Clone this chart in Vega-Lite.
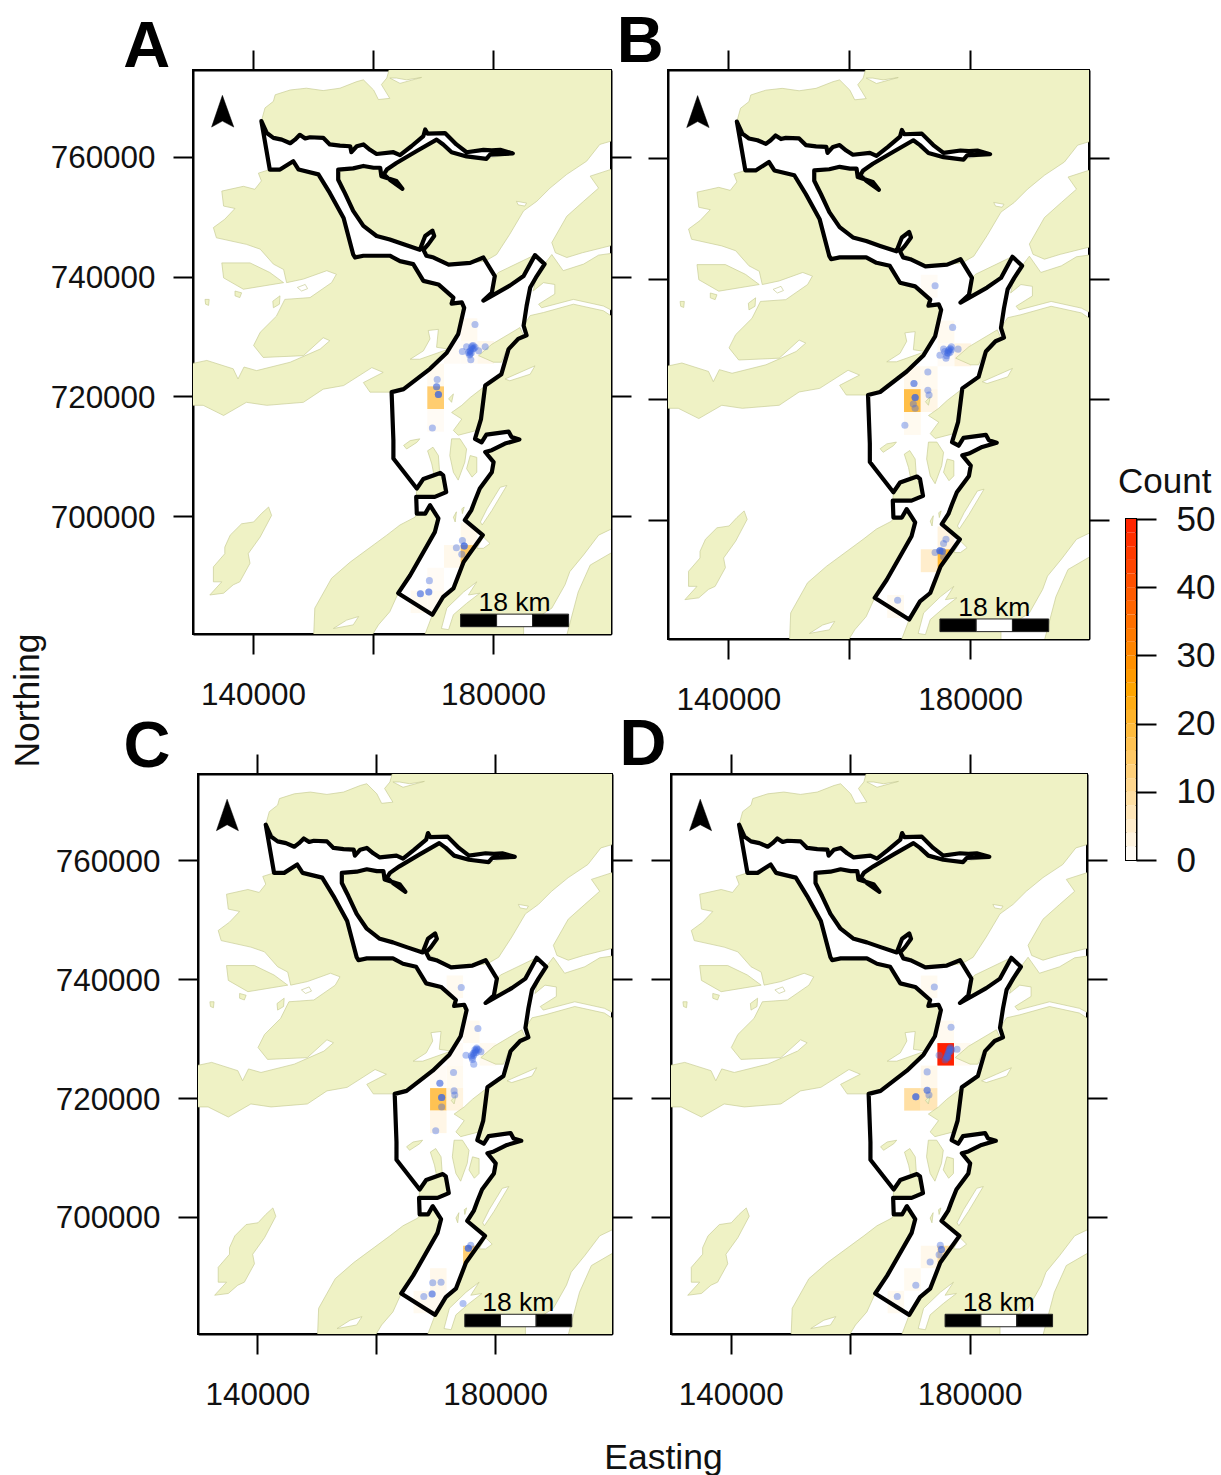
{"$schema":"https://vega.github.io/schema/vega-lite/v6.json",
"padding":{"left":9,"top":8,"right":0,"bottom":0},
"background":"white",
"config":{"font":"Liberation Sans","view":{"stroke":"black","strokeWidth":2},"axis":{"grid":false,"tickSize":20,"tickWidth":2,"tickColor":"black","domainColor":"black","domainWidth":2,"labelFont":"Liberation Sans","labelFontSize":31.4,"labelColor":"#111111","labelOverlap":false,"labelFlush":false,"labelBound":false,"zindex":1,"titleFont":"Liberation Sans","titleFontSize":35.5,"titleFontWeight":"normal","titleColor":"#111111"}},
"datasets":{
"land":[
{"p":"a","i":1,"x":141400,"y":766000},{"p":"a","i":2,"x":142000,"y":768200},{"p":"a","i":3,"x":143400,"y":769300},{"p":"a","i":4,"x":143700,"y":770400},{"p":"a","i":5,"x":146200,"y":771200},{"p":"a","i":6,"x":148900,"y":771500},{"p":"a","i":7,"x":151700,"y":771100},{"p":"a","i":8,"x":154500,"y":771500},{"p":"a","i":9,"x":157300,"y":772600},{"p":"a","i":10,"x":158400,"y":772900},{"p":"a","i":11,"x":160100,"y":771200},{"p":"a","i":12,"x":160900,"y":769600},{"p":"a","i":13,"x":162800,"y":769800},{"p":"a","i":14,"x":161400,"y":772100},{"p":"a","i":15,"x":162300,"y":773200},{"p":"a","i":16,"x":162800,"y":775000},{"p":"a","i":17,"x":200500,"y":775000},{"p":"a","i":18,"x":200500,"y":762900},{"p":"a","i":19,"x":197800,"y":762100},{"p":"a","i":20,"x":195600,"y":759300},{"p":"a","i":21,"x":192300,"y":757100},{"p":"a","i":22,"x":189500,"y":754800},{"p":"a","i":23,"x":187300,"y":752600},{"p":"a","i":24,"x":185100,"y":751000},{"p":"a","i":25,"x":182800,"y":747100},{"p":"a","i":26,"x":180600,"y":743700},{"p":"a","i":27,"x":178700,"y":742600},{"p":"a","i":28,"x":176200,"y":742300},{"p":"a","i":29,"x":172800,"y":741900},{"p":"a","i":30,"x":170100,"y":743500},{"p":"a","i":31,"x":168400,"y":744300},{"p":"a","i":32,"x":165100,"y":745400},{"p":"a","i":33,"x":160600,"y":746800},{"p":"a","i":34,"x":158400,"y":748200},{"p":"a","i":35,"x":156700,"y":751000},{"p":"a","i":36,"x":155600,"y":753200},{"p":"a","i":37,"x":154500,"y":754800},{"p":"a","i":38,"x":154200,"y":756500},{"p":"a","i":39,"x":154200,"y":757900},{"p":"a","i":40,"x":157800,"y":758500},{"p":"a","i":41,"x":160100,"y":758200},{"p":"a","i":42,"x":161200,"y":758200},{"p":"a","i":43,"x":161700,"y":756800},{"p":"a","i":44,"x":162800,"y":756200},{"p":"a","i":45,"x":164900,"y":754700},{"p":"a","i":46,"x":162300,"y":757300},{"p":"a","i":47,"x":163900,"y":759000},{"p":"a","i":48,"x":167300,"y":761000},{"p":"a","i":49,"x":170600,"y":762900},{"p":"a","i":50,"x":172800,"y":761000},{"p":"a","i":51,"x":175600,"y":760100},{"p":"a","i":52,"x":178900,"y":759700},{"p":"a","i":53,"x":183400,"y":760600},{"p":"a","i":54,"x":179500,"y":761100},{"p":"a","i":55,"x":175600,"y":760800},{"p":"a","i":56,"x":172300,"y":764000},{"p":"a","i":57,"x":168700,"y":764000},{"p":"a","i":58,"x":164500,"y":760400},{"p":"a","i":59,"x":160600,"y":760700},{"p":"a","i":60,"x":158400,"y":762100},{"p":"a","i":61,"x":156200,"y":761500},{"p":"a","i":62,"x":152800,"y":762100},{"p":"a","i":63,"x":151700,"y":763200},{"p":"a","i":64,"x":147800,"y":763700},{"p":"a","i":65,"x":146200,"y":762300},{"p":"a","i":66,"x":143400,"y":763200},
{"p":"b","i":1,"x":142800,"y":757900},{"p":"b","i":2,"x":144500,"y":757900},{"p":"b","i":3,"x":146700,"y":759300},{"p":"b","i":4,"x":147600,"y":757900},{"p":"b","i":5,"x":150900,"y":757100},{"p":"b","i":6,"x":152800,"y":754000},{"p":"b","i":7,"x":155100,"y":749800},{"p":"b","i":8,"x":156700,"y":743700},{"p":"b","i":9,"x":158400,"y":743500},{"p":"b","i":10,"x":162800,"y":743500},{"p":"b","i":11,"x":164500,"y":742600},{"p":"b","i":12,"x":166700,"y":742100},{"p":"b","i":13,"x":168400,"y":739300},{"p":"b","i":14,"x":170900,"y":738700},{"p":"b","i":15,"x":173400,"y":736500},{"p":"b","i":16,"x":173100,"y":735500},{"p":"b","i":17,"x":174800,"y":735700},{"p":"b","i":18,"x":175200,"y":734800},{"p":"b","i":19,"x":174200,"y":730400},{"p":"b","i":20,"x":172300,"y":727300},{"p":"b","i":21,"x":169500,"y":724600},{"p":"b","i":22,"x":165100,"y":721200},{"p":"b","i":23,"x":163100,"y":720700},{"p":"b","i":24,"x":159500,"y":720700},{"p":"b","i":25,"x":158400,"y":722300},{"p":"b","i":26,"x":161700,"y":724000},{"p":"b","i":27,"x":159800,"y":724800},{"p":"b","i":28,"x":155100,"y":721800},{"p":"b","i":29,"x":151700,"y":721200},{"p":"b","i":30,"x":148400,"y":719000},{"p":"b","i":31,"x":142300,"y":718500},{"p":"b","i":32,"x":138900,"y":719000},{"p":"b","i":33,"x":135100,"y":716800},{"p":"b","i":34,"x":131700,"y":718500},{"p":"b","i":35,"x":129500,"y":718500},{"p":"b","i":36,"x":129500,"y":725400},{"p":"b","i":37,"x":132300,"y":726000},{"p":"b","i":38,"x":136700,"y":724600},{"p":"b","i":39,"x":137500,"y":722900},{"p":"b","i":40,"x":138500,"y":724900},{"p":"b","i":41,"x":140600,"y":724300},{"p":"b","i":42,"x":146200,"y":725700},{"p":"b","i":43,"x":151200,"y":727900},{"p":"b","i":44,"x":152800,"y":729300},{"p":"b","i":45,"x":151700,"y":729800},{"p":"b","i":46,"x":148400,"y":726800},{"p":"b","i":47,"x":141700,"y":726500},{"p":"b","i":48,"x":140100,"y":728500},{"p":"b","i":49,"x":141200,"y":730700},{"p":"b","i":50,"x":143900,"y":733400},{"p":"b","i":51,"x":145300,"y":736200},{"p":"b","i":52,"x":149500,"y":736500},{"p":"b","i":53,"x":153100,"y":739000},{"p":"b","i":54,"x":153900,"y":740400},{"p":"b","i":55,"x":152300,"y":741000},{"p":"b","i":56,"x":148400,"y":739600},{"p":"b","i":57,"x":145600,"y":739000},{"p":"b","i":58,"x":145100,"y":741200},{"p":"b","i":59,"x":143400,"y":742100},{"p":"b","i":60,"x":141200,"y":744600},{"p":"b","i":61,"x":138900,"y":745400},{"p":"b","i":62,"x":133900,"y":746500},{"p":"b","i":63,"x":133400,"y":748200},{"p":"b","i":64,"x":135300,"y":749600},{"p":"b","i":65,"x":137000,"y":751400},{"p":"b","i":66,"x":135100,"y":751800},{"p":"b","i":67,"x":134800,"y":754300},{"p":"b","i":68,"x":138400,"y":755100},{"p":"b","i":69,"x":140300,"y":754600},{"p":"b","i":70,"x":141400,"y":756000},{"p":"b","i":71,"x":140900,"y":757300},
{"p":"c","i":1,"x":134800,"y":742300},{"p":"c","i":2,"x":139500,"y":742300},{"p":"c","i":3,"x":142800,"y":740700},{"p":"c","i":4,"x":145100,"y":739000},{"p":"c","i":5,"x":138400,"y":737900},{"p":"c","i":6,"x":135100,"y":739800},
{"p":"d","i":1,"x":137000,"y":737600},{"p":"d","i":2,"x":138100,"y":737300},{"p":"d","i":3,"x":137800,"y":736500},{"p":"d","i":4,"x":137000,"y":736800},
{"p":"e","i":1,"x":132000,"y":736200},{"p":"e","i":2,"x":132700,"y":736200},{"p":"e","i":3,"x":132600,"y":735200},{"p":"e","i":4,"x":132100,"y":735400},
{"p":"f","i":1,"x":143300,"y":735900},{"p":"f","i":2,"x":144500,"y":736800},{"p":"f","i":3,"x":144400,"y":735400},{"p":"f","i":4,"x":143400,"y":734800},
{"p":"g","i":1,"x":200500,"y":732900},{"p":"g","i":2,"x":198400,"y":734300},{"p":"g","i":3,"x":193400,"y":735400},{"p":"g","i":4,"x":188400,"y":734000},{"p":"g","i":5,"x":186200,"y":733500},{"p":"g","i":6,"x":185100,"y":731800},{"p":"g","i":7,"x":185600,"y":730200},{"p":"g","i":8,"x":184200,"y":729600},{"p":"g","i":9,"x":182600,"y":727900},{"p":"g","i":10,"x":181400,"y":723700},{"p":"g","i":11,"x":178700,"y":721800},{"p":"g","i":12,"x":178000,"y":716200},{"p":"g","i":13,"x":177000,"y":712900},{"p":"g","i":14,"x":178100,"y":712300},{"p":"g","i":15,"x":178900,"y":713600},{"p":"g","i":16,"x":182600,"y":714100},{"p":"g","i":17,"x":183100,"y":713200},{"p":"g","i":18,"x":184400,"y":712800},{"p":"g","i":19,"x":182000,"y":712100},{"p":"g","i":20,"x":179800,"y":711000},{"p":"g","i":21,"x":178700,"y":710700},{"p":"g","i":22,"x":180100,"y":709000},{"p":"g","i":23,"x":179800,"y":707300},{"p":"g","i":24,"x":177800,"y":704600},{"p":"g","i":25,"x":177000,"y":702600},{"p":"g","i":26,"x":176400,"y":701000},{"p":"g","i":27,"x":175300,"y":699300},{"p":"g","i":28,"x":178300,"y":696800},{"p":"g","i":29,"x":175100,"y":692300},{"p":"g","i":30,"x":173400,"y":687900},{"p":"g","i":31,"x":171700,"y":686500},{"p":"g","i":32,"x":169900,"y":683500},{"p":"g","i":33,"x":168400,"y":679500},{"p":"g","i":34,"x":200500,"y":679500},
{"p":"h","i":1,"x":200500,"y":758200},{"p":"h","i":2,"x":196200,"y":756800},{"p":"h","i":3,"x":197600,"y":754800},{"p":"h","i":4,"x":195100,"y":752600},{"p":"h","i":5,"x":192300,"y":750100},{"p":"h","i":6,"x":189800,"y":745700},{"p":"h","i":7,"x":190400,"y":744000},{"p":"h","i":8,"x":192300,"y":743200},{"p":"h","i":9,"x":194900,"y":744000},{"p":"h","i":10,"x":200500,"y":745400},
{"p":"j","i":1,"x":188600,"y":742100},{"p":"j","i":2,"x":189800,"y":743700},{"p":"j","i":3,"x":191700,"y":741000},{"p":"j","i":4,"x":195100,"y":742100},{"p":"j","i":5,"x":197600,"y":743600},{"p":"j","i":6,"x":200500,"y":744000},{"p":"j","i":7,"x":200500,"y":734000},{"p":"j","i":8,"x":198400,"y":735100},{"p":"j","i":9,"x":193400,"y":736200},{"p":"j","i":10,"x":188100,"y":734800},{"p":"j","i":11,"x":187600,"y":735400},{"p":"j","i":12,"x":190300,"y":737100},{"p":"j","i":13,"x":190300,"y":738700},{"p":"j","i":14,"x":188400,"y":739000},{"p":"j","i":15,"x":186700,"y":737600},{"p":"j","i":16,"x":187300,"y":740100},
{"p":"k","i":1,"x":180300,"y":740100},{"p":"k","i":2,"x":180900,"y":740700},{"p":"k","i":3,"x":186700,"y":743500},{"p":"k","i":4,"x":187000,"y":743600},{"p":"k","i":5,"x":185100,"y":740100},{"p":"k","i":6,"x":182800,"y":738500},{"p":"k","i":7,"x":178400,"y":736000},{"p":"k","i":8,"x":179800,"y":737300},
{"p":"l","i":1,"x":177600,"y":726800},{"p":"l","i":2,"x":179800,"y":728700},{"p":"l","i":3,"x":184500,"y":731500},{"p":"l","i":4,"x":185100,"y":730100},{"p":"l","i":5,"x":182300,"y":727900},{"p":"l","i":6,"x":181400,"y":725700},{"p":"l","i":7,"x":180100,"y":725700},
{"p":"m","i":1,"x":173100,"y":717300},{"p":"m","i":2,"x":174800,"y":718500},{"p":"m","i":3,"x":176200,"y":719800},{"p":"m","i":4,"x":178400,"y":721500},{"p":"m","i":5,"x":178700,"y":721800},{"p":"m","i":6,"x":178000,"y":716200},{"p":"m","i":7,"x":177300,"y":714300},{"p":"m","i":8,"x":174200,"y":713500},{"p":"m","i":9,"x":173400,"y":714300},{"p":"m","i":10,"x":174800,"y":716200},
{"p":"n","i":1,"x":173100,"y":712900},{"p":"n","i":2,"x":174500,"y":712900},{"p":"n","i":3,"x":175600,"y":711200},{"p":"n","i":4,"x":175300,"y":709000},{"p":"n","i":5,"x":174200,"y":706000},{"p":"n","i":6,"x":173400,"y":707300},{"p":"n","i":7,"x":172800,"y":710100},
{"p":"o","i":1,"x":176200,"y":710100},{"p":"o","i":2,"x":177300,"y":709800},{"p":"o","i":3,"x":177300,"y":707300},{"p":"o","i":4,"x":176500,"y":706500},{"p":"o","i":5,"x":175600,"y":707900},
{"p":"q","i":1,"x":165100,"y":711800},{"p":"q","i":2,"x":166200,"y":712600},{"p":"q","i":3,"x":167800,"y":712900},{"p":"q","i":4,"x":167300,"y":712300},{"p":"q","i":5,"x":165600,"y":711200},
{"p":"r","i":1,"x":169100,"y":710900},{"p":"r","i":2,"x":170000,"y":711500},{"p":"r","i":3,"x":170900,"y":710100},{"p":"r","i":4,"x":171100,"y":707300},{"p":"r","i":5,"x":170300,"y":706200},{"p":"r","i":6,"x":169800,"y":708700},
{"p":"s","i":1,"x":173400,"y":699800},{"p":"s","i":2,"x":173900,"y":700700},{"p":"s","i":3,"x":173700,"y":699000},
{"p":"t","i":1,"x":174800,"y":701200},{"p":"t","i":2,"x":175200,"y":701500},{"p":"t","i":3,"x":174900,"y":700400},
{"p":"u","i":1,"x":172600,"y":719600},{"p":"u","i":2,"x":173400,"y":720400},{"p":"u","i":3,"x":173100,"y":719000},
{"p":"v","i":1,"x":167300,"y":704600},{"p":"v","i":2,"x":168400,"y":706200},{"p":"v","i":3,"x":171200,"y":707200},{"p":"v","i":4,"x":172200,"y":704000},{"p":"v","i":5,"x":170300,"y":703200},{"p":"v","i":6,"x":167200,"y":703200},
{"p":"w","i":1,"x":150100,"y":679500},{"p":"w","i":2,"x":150300,"y":684600},{"p":"w","i":3,"x":153100,"y":689600},{"p":"w","i":4,"x":156200,"y":692300},{"p":"w","i":5,"x":162300,"y":696800},{"p":"w","i":6,"x":164500,"y":698500},{"p":"w","i":7,"x":167000,"y":699800},{"p":"w","i":8,"x":167300,"y":700400},{"p":"w","i":9,"x":168700,"y":700400},{"p":"w","i":10,"x":169500,"y":701800},{"p":"w","i":11,"x":170900,"y":699600},{"p":"w","i":12,"x":170300,"y":697300},{"p":"w","i":13,"x":166200,"y":690100},{"p":"w","i":14,"x":164200,"y":687100},{"p":"w","i":15,"x":162800,"y":684000},{"p":"w","i":16,"x":160900,"y":681800},{"p":"w","i":17,"x":159500,"y":679500},
{"p":"z","i":1,"x":142600,"y":701500},{"p":"z","i":2,"x":141400,"y":700400},{"p":"z","i":3,"x":140100,"y":699000},{"p":"z","i":4,"x":138100,"y":698700},{"p":"z","i":5,"x":136200,"y":696800},{"p":"z","i":6,"x":135300,"y":694800},{"p":"z","i":7,"x":135300,"y":693700},{"p":"z","i":8,"x":133400,"y":691500},{"p":"z","i":9,"x":133400,"y":689000},{"p":"z","i":10,"x":134800,"y":689000},{"p":"z","i":11,"x":132800,"y":686800},{"p":"z","i":12,"x":135100,"y":687100},{"p":"z","i":13,"x":136700,"y":688500},{"p":"z","i":14,"x":137800,"y":689000},{"p":"z","i":15,"x":139500,"y":692100},{"p":"z","i":16,"x":139200,"y":693700},{"p":"z","i":17,"x":141200,"y":696500},{"p":"z","i":18,"x":143100,"y":700100}
],
"water":[
{"p":"a","i":1,"x":162800,"y":773200},{"p":"a","i":2,"x":164500,"y":772300},{"p":"a","i":3,"x":168100,"y":773300},{"p":"a","i":4,"x":165600,"y":772900},{"p":"a","i":5,"x":163900,"y":773200},
{"p":"b","i":1,"x":183900,"y":752600},{"p":"b","i":2,"x":185600,"y":752300},{"p":"b","i":3,"x":185300,"y":751800},{"p":"b","i":4,"x":184200,"y":752000},
{"p":"c","i":1,"x":168700,"y":746800},{"p":"c","i":2,"x":169900,"y":747700},{"p":"c","i":3,"x":170200,"y":746800},{"p":"c","i":4,"x":169200,"y":745400},{"p":"c","i":5,"x":168400,"y":744500},
{"p":"d","i":1,"x":182000,"y":722900},{"p":"d","i":2,"x":184500,"y":724000},{"p":"d","i":3,"x":187000,"y":725100},{"p":"d","i":4,"x":186200,"y":723700},{"p":"d","i":5,"x":182800,"y":722600},
{"p":"e","i":1,"x":182300,"y":705100},{"p":"e","i":2,"x":181200,"y":704800},{"p":"e","i":3,"x":179000,"y":701200},{"p":"e","i":4,"x":177900,"y":699000},{"p":"e","i":5,"x":178200,"y":698500},{"p":"e","i":6,"x":179800,"y":700900},
{"p":"f","i":1,"x":178400,"y":696500},{"p":"f","i":2,"x":179500,"y":695400},{"p":"f","i":3,"x":178400,"y":694600},{"p":"f","i":4,"x":177300,"y":694600},
{"p":"g","i":1,"x":171400,"y":681200},{"p":"g","i":2,"x":172300,"y":684600},{"p":"g","i":3,"x":175100,"y":687300},{"p":"g","i":4,"x":177300,"y":689000},{"p":"g","i":5,"x":175900,"y":686800},{"p":"g","i":6,"x":177800,"y":687100},{"p":"g","i":7,"x":175600,"y":685400},{"p":"g","i":8,"x":173400,"y":683500},{"p":"g","i":9,"x":172600,"y":681000},
{"p":"h","i":1,"x":200500,"y":698200},{"p":"h","i":2,"x":197600,"y":696800},{"p":"h","i":3,"x":195100,"y":693500},{"p":"h","i":4,"x":192800,"y":690700},{"p":"h","i":5,"x":192000,"y":688500},{"p":"h","i":6,"x":189800,"y":684600},{"p":"h","i":7,"x":185100,"y":681500},{"p":"h","i":8,"x":185100,"y":680100},{"p":"h","i":9,"x":192300,"y":680100},{"p":"h","i":10,"x":194200,"y":687300},{"p":"h","i":11,"x":196200,"y":691800},{"p":"h","i":12,"x":200500,"y":694300},
{"p":"j","i":1,"x":166200,"y":726200},{"p":"j","i":2,"x":168400,"y":727600},{"p":"j","i":3,"x":169500,"y":729600},{"p":"j","i":4,"x":169200,"y":731000},{"p":"j","i":5,"x":170900,"y":731200},{"p":"j","i":6,"x":170600,"y":728200},{"p":"j","i":7,"x":172600,"y":727900},{"p":"j","i":8,"x":167800,"y":726200},
{"p":"k","i":1,"x":147400,"y":738200},{"p":"k","i":2,"x":148700,"y":738700},{"p":"k","i":3,"x":149100,"y":738000},{"p":"k","i":4,"x":148100,"y":737600},
{"p":"l","i":1,"x":153400,"y":681200},{"p":"l","i":2,"x":155600,"y":682600},{"p":"l","i":3,"x":157600,"y":683200},{"p":"l","i":4,"x":156700,"y":681800}
],
"boundary":[
{"i":1,"x":141400,"y":766000},{"i":2,"x":142300,"y":764000},{"i":3,"x":143400,"y":763200},{"i":4,"x":144800,"y":762900},{"i":5,"x":146200,"y":762300},{"i":6,"x":147000,"y":762900},{"i":7,"x":147800,"y":763700},{"i":8,"x":148700,"y":763100},{"i":9,"x":149500,"y":763300},{"i":10,"x":151700,"y":763200},{"i":11,"x":152800,"y":762100},{"i":12,"x":154500,"y":761900},{"i":13,"x":156200,"y":761800},{"i":14,"x":156400,"y":760800},{"i":15,"x":157300,"y":761800},{"i":16,"x":158400,"y":762100},{"i":17,"x":159500,"y":761200},{"i":18,"x":160600,"y":760500},{"i":19,"x":163400,"y":760800},{"i":20,"x":164500,"y":760300},{"i":21,"x":166400,"y":761800},{"i":22,"x":168400,"y":763500},{"i":23,"x":168700,"y":764600},{"i":24,"x":169100,"y":763900},{"i":25,"x":172000,"y":764000},{"i":26,"x":173900,"y":762100},{"i":27,"x":175600,"y":760800},{"i":28,"x":178400,"y":761200},{"i":29,"x":179800,"y":761100},{"i":30,"x":181200,"y":761200},{"i":31,"x":183300,"y":760600},{"i":32,"x":179500,"y":760400},{"i":33,"x":178900,"y":759700},{"i":34,"x":175600,"y":760100},{"i":35,"x":173100,"y":760800},{"i":36,"x":171700,"y":762100},{"i":37,"x":170600,"y":762900},{"i":38,"x":167300,"y":761000},{"i":39,"x":163900,"y":759000},{"i":40,"x":162300,"y":757900},{"i":41,"x":161800,"y":757100},{"i":42,"x":162800,"y":756200},{"i":43,"x":164900,"y":754700},{"i":44,"x":163900,"y":756000},{"i":45,"x":161400,"y":756800},{"i":46,"x":161200,"y":758200},{"i":47,"x":160100,"y":758200},{"i":48,"x":158400,"y":758500},{"i":49,"x":156700,"y":758100},{"i":50,"x":154200,"y":757900},{"i":51,"x":154200,"y":756200},{"i":52,"x":155300,"y":754000},{"i":53,"x":156700,"y":751000},{"i":54,"x":158400,"y":748500},{"i":55,"x":160600,"y":746800},{"i":56,"x":162800,"y":746200},{"i":57,"x":165100,"y":745400},{"i":58,"x":167800,"y":744500},{"i":59,"x":168700,"y":746800},{"i":60,"x":169900,"y":747700},{"i":61,"x":170200,"y":746800},{"i":62,"x":169200,"y":745400},{"i":63,"x":168400,"y":744500},{"i":64,"x":168900,"y":743500},{"i":65,"x":170100,"y":743200},{"i":66,"x":172600,"y":742000},{"i":67,"x":176200,"y":742300},{"i":68,"x":178400,"y":743200},{"i":69,"x":180300,"y":740100},{"i":70,"x":179800,"y":737300},{"i":71,"x":178400,"y":736000},{"i":72,"x":182800,"y":738500},{"i":73,"x":185100,"y":740100},{"i":74,"x":187000,"y":743600},{"i":75,"x":188600,"y":742100},{"i":76,"x":187300,"y":740100},{"i":77,"x":186200,"y":738200},{"i":78,"x":185600,"y":735100},{"i":79,"x":185100,"y":731800},{"i":80,"x":185600,"y":730200},{"i":81,"x":184200,"y":729600},{"i":82,"x":182600,"y":727900},{"i":83,"x":181400,"y":723700},{"i":84,"x":178700,"y":721800},{"i":85,"x":178000,"y":716200},{"i":86,"x":177000,"y":712900},{"i":87,"x":178100,"y":712300},{"i":88,"x":178900,"y":713600},{"i":89,"x":182600,"y":714100},{"i":90,"x":183100,"y":713200},{"i":91,"x":184400,"y":712800},{"i":92,"x":182000,"y":712100},{"i":93,"x":179800,"y":711000},{"i":94,"x":178700,"y":710700},{"i":95,"x":180100,"y":709000},{"i":96,"x":179800,"y":707300},{"i":97,"x":177800,"y":704600},{"i":98,"x":177000,"y":702600},{"i":99,"x":176400,"y":701000},{"i":100,"x":175300,"y":699300},{"i":101,"x":178300,"y":696800},{"i":102,"x":175100,"y":692300},{"i":103,"x":173400,"y":687900},{"i":104,"x":171700,"y":686500},{"i":105,"x":169900,"y":683500},{"i":106,"x":164200,"y":687100},{"i":107,"x":166200,"y":690100},{"i":108,"x":170300,"y":697300},{"i":109,"x":170900,"y":699600},{"i":110,"x":169500,"y":701800},{"i":111,"x":168700,"y":700400},{"i":112,"x":167300,"y":700400},{"i":113,"x":167200,"y":703200},{"i":114,"x":170300,"y":703200},{"i":115,"x":172200,"y":704000},{"i":116,"x":171700,"y":706800},{"i":117,"x":171200,"y":707200},{"i":118,"x":168400,"y":706200},{"i":119,"x":167300,"y":704600},{"i":120,"x":163400,"y":709600},{"i":121,"x":163400,"y":712600},{"i":122,"x":163100,"y":720700},{"i":123,"x":165100,"y":721200},{"i":124,"x":169500,"y":724600},{"i":125,"x":172300,"y":727300},{"i":126,"x":174200,"y":730400},{"i":127,"x":175200,"y":734800},{"i":128,"x":174800,"y":735700},{"i":129,"x":173100,"y":735500},{"i":130,"x":173400,"y":736500},{"i":131,"x":170900,"y":738700},{"i":132,"x":168400,"y":739300},{"i":133,"x":166700,"y":742100},{"i":134,"x":164500,"y":742600},{"i":135,"x":162800,"y":743500},{"i":136,"x":158400,"y":743500},{"i":137,"x":157000,"y":743200},{"i":138,"x":156700,"y":743700},{"i":139,"x":155100,"y":749800},{"i":140,"x":152800,"y":754000},{"i":141,"x":150900,"y":757100},{"i":142,"x":147600,"y":757900},{"i":143,"x":146700,"y":759300},{"i":144,"x":144500,"y":757900},{"i":145,"x":142800,"y":757900}
],
"cells":[
{"p":"A","x":174610,"x2":177390,"y":729250,"y2":733040,"v":1.5},{"p":"A","x":174610,"x2":177390,"y":725460,"y2":729250,"v":1},{"p":"A","x":171830,"x2":174610,"y":725460,"y2":729250,"v":1},{"p":"A","x":177390,"x2":180170,"y":725460,"y2":729250,"v":2},{"p":"A","x":169050,"x2":171830,"y":721670,"y2":725460,"v":1.5},{"p":"A","x":169050,"x2":171830,"y":717880,"y2":721670,"v":14},{"p":"A","x":169050,"x2":171830,"y":714090,"y2":717880,"v":1},{"p":"A","x":174610,"x2":177390,"y":695140,"y2":698930,"v":2},{"p":"A","x":171830,"x2":174610,"y":691350,"y2":695140,"v":2},{"p":"A","x":174610,"x2":177390,"y":691350,"y2":695140,"v":15},{"p":"A","x":169050,"x2":171830,"y":687560,"y2":691350,"v":1},{"p":"A","x":166270,"x2":169050,"y":683770,"y2":687560,"v":1.5},{"p":"A","x":169050,"x2":171830,"y":683770,"y2":687560,"v":1.5},
{"p":"B","x":171830,"x2":174610,"y":736830,"y2":740620,"v":1},{"p":"B","x":174610,"x2":177390,"y":729250,"y2":733040,"v":1.5},{"p":"B","x":174610,"x2":177390,"y":725460,"y2":729250,"v":1},{"p":"B","x":177390,"x2":180170,"y":725460,"y2":729250,"v":3},{"p":"B","x":169050,"x2":171830,"y":721670,"y2":725460,"v":2},{"p":"B","x":171830,"x2":174610,"y":721670,"y2":725460,"v":1.5},{"p":"B","x":169050,"x2":171830,"y":717880,"y2":721670,"v":18},{"p":"B","x":171830,"x2":174610,"y":717880,"y2":721670,"v":2.5},{"p":"B","x":169050,"x2":171830,"y":714090,"y2":717880,"v":1.5},{"p":"B","x":174610,"x2":177390,"y":695140,"y2":698930,"v":3},{"p":"B","x":171830,"x2":174610,"y":691350,"y2":695140,"v":5},{"p":"B","x":174610,"x2":177390,"y":691350,"y2":695140,"v":20},{"p":"B","x":166270,"x2":169050,"y":683770,"y2":687560,"v":1.5},
{"p":"C","x":171830,"x2":174610,"y":736830,"y2":740620,"v":1.5},{"p":"C","x":174610,"x2":177390,"y":729250,"y2":733040,"v":1.5},{"p":"C","x":177390,"x2":180170,"y":725460,"y2":729250,"v":1.5},{"p":"C","x":171830,"x2":174610,"y":725460,"y2":729250,"v":1},{"p":"C","x":171830,"x2":174610,"y":721670,"y2":725460,"v":1.5},{"p":"C","x":169050,"x2":171830,"y":721670,"y2":725460,"v":1},{"p":"C","x":169050,"x2":171830,"y":717880,"y2":721670,"v":17},{"p":"C","x":171830,"x2":174610,"y":717880,"y2":721670,"v":3},{"p":"C","x":169050,"x2":171830,"y":714090,"y2":717880,"v":2.5},{"p":"C","x":174610,"x2":177390,"y":691350,"y2":695140,"v":14},{"p":"C","x":169050,"x2":171830,"y":687560,"y2":691350,"v":2},{"p":"C","x":166270,"x2":169050,"y":683770,"y2":687560,"v":1.5},{"p":"C","x":169050,"x2":171830,"y":683770,"y2":687560,"v":1.5},
{"p":"D","x":171830,"x2":174610,"y":736830,"y2":740620,"v":1.5},{"p":"D","x":174610,"x2":177390,"y":729250,"y2":733040,"v":1.5},{"p":"D","x":174610,"x2":177390,"y":725460,"y2":729250,"v":50},{"p":"D","x":177390,"x2":180170,"y":725460,"y2":729250,"v":1.5},{"p":"D","x":171830,"x2":174610,"y":721670,"y2":725460,"v":2},{"p":"D","x":169050,"x2":171830,"y":717880,"y2":721670,"v":9},{"p":"D","x":171830,"x2":174610,"y":717880,"y2":721670,"v":7},{"p":"D","x":171830,"x2":174610,"y":691350,"y2":695140,"v":2},{"p":"D","x":174610,"x2":177390,"y":691350,"y2":695140,"v":9},{"p":"D","x":169050,"x2":171830,"y":687560,"y2":691350,"v":1.5},{"p":"D","x":166270,"x2":169050,"y":683770,"y2":687560,"v":1.5}
],
"sightings":[
{"p":"A","x":176700,"y":728500},{"p":"A","x":176400,"y":728100},{"p":"A","x":177000,"y":728200},{"p":"A","x":176200,"y":727600},{"p":"A","x":176600,"y":727900},{"p":"A","x":176100,"y":726900},{"p":"A","x":175900,"y":727300},{"p":"A","x":176400,"y":727300},{"p":"A","x":176800,"y":728000},{"p":"A","x":176500,"y":728400},{"p":"A","x":176200,"y":727100},{"p":"A","x":176100,"y":727500},{"p":"A","x":175600,"y":728300},{"p":"A","x":174900,"y":727500},{"p":"A","x":178700,"y":728300},{"p":"A","x":177600,"y":727600},{"p":"A","x":176300,"y":726100},{"p":"A","x":177000,"y":732000},{"p":"A","x":170700,"y":722800},{"p":"A","x":170600,"y":721600},{"p":"A","x":170600,"y":721600},{"p":"A","x":170900,"y":720300},{"p":"A","x":170900,"y":720300},{"p":"A","x":170900,"y":720300},{"p":"A","x":169900,"y":714700},{"p":"A","x":175200,"y":695000},{"p":"A","x":175200,"y":695000},{"p":"A","x":175200,"y":695000},{"p":"A","x":174800,"y":693600},{"p":"A","x":173900,"y":694700},{"p":"A","x":174900,"y":695900},{"p":"A","x":169400,"y":689200},{"p":"A","x":169300,"y":687300},{"p":"A","x":169300,"y":687300},{"p":"A","x":167900,"y":687000},{"p":"A","x":167900,"y":687000},
{"p":"B","x":174200,"y":738800},{"p":"B","x":177100,"y":731900},{"p":"B","x":176700,"y":728400},{"p":"B","x":176400,"y":728000},{"p":"B","x":176900,"y":728200},{"p":"B","x":175800,"y":727900},{"p":"B","x":176400,"y":727600},{"p":"B","x":176100,"y":727200},{"p":"B","x":176000,"y":726800},{"p":"B","x":175600,"y":728300},{"p":"B","x":178000,"y":728300},{"p":"B","x":175000,"y":727300},{"p":"B","x":176900,"y":728700},{"p":"B","x":176500,"y":728200},{"p":"B","x":176200,"y":727700},{"p":"B","x":176700,"y":727800},{"p":"B","x":173000,"y":724500},{"p":"B","x":170700,"y":722600},{"p":"B","x":170700,"y":722600},{"p":"B","x":173000,"y":721500},{"p":"B","x":173200,"y":720700},{"p":"B","x":170900,"y":720300},{"p":"B","x":170900,"y":720300},{"p":"B","x":170900,"y":720300},{"p":"B","x":170600,"y":719200},{"p":"B","x":170900,"y":718500},{"p":"B","x":169200,"y":715700},{"p":"B","x":176000,"y":696800},{"p":"B","x":175600,"y":696100},{"p":"B","x":175000,"y":694900},{"p":"B","x":175000,"y":694900},{"p":"B","x":175000,"y":694900},{"p":"B","x":174200,"y":694600},{"p":"B","x":175400,"y":694800},{"p":"B","x":175400,"y":694800},{"p":"B","x":175600,"y":693900},{"p":"B","x":168000,"y":686700},
{"p":"C","x":174300,"y":738600},{"p":"C","x":177100,"y":731700},{"p":"C","x":176900,"y":728400},{"p":"C","x":176600,"y":728100},{"p":"C","x":177200,"y":728100},{"p":"C","x":176300,"y":727500},{"p":"C","x":176800,"y":727600},{"p":"C","x":176000,"y":727100},{"p":"C","x":176200,"y":726500},{"p":"C","x":176400,"y":727200},{"p":"C","x":176700,"y":727900},{"p":"C","x":176500,"y":727600},{"p":"C","x":176100,"y":726800},{"p":"C","x":176900,"y":728200},{"p":"C","x":175100,"y":727200},{"p":"C","x":177600,"y":727800},{"p":"C","x":176400,"y":725700},{"p":"C","x":173000,"y":724300},{"p":"C","x":170700,"y":722500},{"p":"C","x":170700,"y":722500},{"p":"C","x":173100,"y":721200},{"p":"C","x":173200,"y":720500},{"p":"C","x":171000,"y":720100},{"p":"C","x":171000,"y":720100},{"p":"C","x":171000,"y":720100},{"p":"C","x":171000,"y":718500},{"p":"C","x":170000,"y":714500},{"p":"C","x":175500,"y":694700},{"p":"C","x":175500,"y":694700},{"p":"C","x":175500,"y":694700},{"p":"C","x":175900,"y":695200},{"p":"C","x":169500,"y":688900},{"p":"C","x":170900,"y":689000},{"p":"C","x":169400,"y":687000},{"p":"C","x":169400,"y":687000},{"p":"C","x":168000,"y":686600},{"p":"C","x":174600,"y":685400},
{"p":"D","x":174100,"y":738700},{"p":"D","x":176900,"y":731900},{"p":"D","x":176800,"y":728500},{"p":"D","x":176600,"y":728100},{"p":"D","x":177000,"y":728100},{"p":"D","x":176400,"y":727500},{"p":"D","x":176300,"y":727100},{"p":"D","x":176100,"y":726700},{"p":"D","x":176400,"y":726800},{"p":"D","x":176700,"y":727800},{"p":"D","x":175900,"y":726400},{"p":"D","x":176700,"y":728300},{"p":"D","x":176500,"y":727700},{"p":"D","x":176200,"y":727000},{"p":"D","x":177900,"y":728200},{"p":"D","x":174900,"y":727200},{"p":"D","x":172900,"y":724400},{"p":"D","x":172900,"y":721300},{"p":"D","x":172900,"y":721300},{"p":"D","x":173200,"y":720500},{"p":"D","x":171000,"y":720200},{"p":"D","x":171000,"y":720200},{"p":"D","x":171000,"y":720200},{"p":"D","x":175300,"y":694500},{"p":"D","x":175300,"y":694500},{"p":"D","x":174900,"y":693600},{"p":"D","x":173400,"y":692400},{"p":"D","x":171000,"y":688500},{"p":"D","x":167900,"y":686600},{"p":"D","x":175100,"y":695200}
],
"arrow":[{"i":1,"x":134900,"y":770300},{"i":2,"x":136800,"y":765000},{"i":3,"x":134900,"y":766000},{"i":4,"x":133100,"y":765000}],
"scalebar":[
{"p":"A","x":174600,"x2":180600,"y":681500,"y2":683600,"c":"black"},{"p":"A","x":180600,"x2":186600,"y":681500,"y2":683600,"c":"white"},{"p":"A","x":186600,"x2":192600,"y":681500,"y2":683600,"c":"black"},
{"p":"B","x":175000,"x2":181000,"y":681500,"y2":683600,"c":"black"},{"p":"B","x":181000,"x2":187000,"y":681500,"y2":683600,"c":"white"},{"p":"B","x":187000,"x2":193000,"y":681500,"y2":683600,"c":"black"},
{"p":"C","x":174900,"x2":180900,"y":681500,"y2":683600,"c":"black"},{"p":"C","x":180900,"x2":186900,"y":681500,"y2":683600,"c":"white"},{"p":"C","x":186900,"x2":192900,"y":681500,"y2":683600,"c":"black"},
{"p":"D","x":175900,"x2":181900,"y":681500,"y2":683600,"c":"black"},{"p":"D","x":181900,"x2":187900,"y":681500,"y2":683600,"c":"white"},{"p":"D","x":187900,"x2":193900,"y":681500,"y2":683600,"c":"black"}],
"scalelabel":[{"p":"A","x":183600,"y":684100,"label":"18 km"},{"p":"B","x":184000,"y":684100,"label":"18 km"},{"p":"C","x":183900,"y":684100,"label":"18 km"},{"p":"D","x":184900,"y":684100,"label":"18 km"}],
"letters":[{"p":"A","x":122300,"y":775000,"label":"A"},{"p":"B","x":125400,"y":775900,"label":"B"},{"p":"C","x":121400,"y":775700,"label":"C"},{"p":"D","x":125300,"y":776000,"label":"D"}],
"legendbar":[{"y":0,"y2":2,"v":1},{"y":2,"y2":4,"v":3},{"y":4,"y2":6,"v":5},{"y":6,"y2":8,"v":7},{"y":8,"y2":10,"v":9},{"y":10,"y2":12,"v":11},{"y":12,"y2":14,"v":13},{"y":14,"y2":16,"v":15},{"y":16,"y2":18,"v":17},{"y":18,"y2":20,"v":19},{"y":20,"y2":22,"v":21},{"y":22,"y2":24,"v":23},{"y":24,"y2":26,"v":25},{"y":26,"y2":28,"v":27},{"y":28,"y2":30,"v":29},{"y":30,"y2":32,"v":31},{"y":32,"y2":34,"v":33},{"y":34,"y2":36,"v":35},{"y":36,"y2":38,"v":37},{"y":38,"y2":40,"v":39},{"y":40,"y2":42,"v":41},{"y":42,"y2":44,"v":43},{"y":44,"y2":46,"v":45},{"y":46,"y2":48,"v":47},{"y":48,"y2":50,"v":49}]
},
"spacing":6,
"hconcat":[
{"spacing":-57,"vconcat":[
 {"bounds":"flush","spacing":57,"hconcat":[
  {"width":418,"height":564,"resolve":{"axis":{"x":"independent","y":"independent"}},
   "encoding":{"x":{"field":"x","type":"quantitative","axis":null,"scale":{"domain":[130000,199667],"nice":false,"zero":false}},"y":{"field":"y","type":"quantitative","axis":null,"scale":{"domain":[680280,774540],"nice":false,"zero":false}}},
   "layer":[
    {"data":{"name":"cells"},"transform":[{"filter":"datum.p=='A'"}],"mark":"rect","encoding":{"x":{"field":"x","type":"quantitative","axis":{"orient":"bottom","values":[140000,160000,180000,200000],"format":"d","labelExpr":"datum.value==140000||datum.value==180000?datum.label:''","labelPadding":25,"title":null},"scale":{"domain":[130000,199667],"nice":false,"zero":false}},"y":{"field":"y","type":"quantitative","axis":{"orient":"left","values":[700000,720000,740000,760000],"format":"d","labelPadding":18,"labelOffset":2,"title":"Northing","titleX":-155,"titleY":630,"titleBaseline":"alphabetic"},"scale":{"domain":[680280,774540],"nice":false,"zero":false}},"x2":{"field":"x2"},"y2":{"field":"y2"},"color":{"field":"v","type":"quantitative","legend":null,"scale":{"domain":[0,25,50],"range":["#ffffff","#ffa500","#ff2000"],"interpolate":"rgb"}}}},
    {"data":{"name":"land"},"mark":{"type":"line","interpolate":"linear-closed","fill":"#EFF2C5","stroke":"#C9CD96","strokeWidth":0.7,"clip":true},"encoding":{"detail":{"field":"p"},"order":{"field":"i","type":"quantitative"}}},
    {"data":{"name":"water"},"mark":{"type":"line","interpolate":"linear-closed","fill":"white","stroke":"#C9CD96","strokeWidth":0.7,"clip":true},"encoding":{"detail":{"field":"p"},"order":{"field":"i","type":"quantitative"}}},
    {"data":{"name":"sightings"},"transform":[{"filter":"datum.p=='A'"}],"mark":{"type":"circle","size":50,"color":"#3B66E0","opacity":0.4}},
    {"data":{"name":"boundary"},"mark":{"type":"line","interpolate":"linear-closed","stroke":"black","strokeWidth":4.2,"strokeJoin":"round","clip":true},"encoding":{"order":{"field":"i","type":"quantitative"}}},
    {"data":{"name":"arrow"},"mark":{"type":"line","interpolate":"linear-closed","fill":"black","stroke":"black","strokeWidth":0.5},"encoding":{"order":{"field":"i","type":"quantitative"}}},
    {"data":{"name":"scalebar"},"transform":[{"filter":"datum.p=='A'"}],"mark":{"type":"rect","stroke":"#222222","strokeWidth":1},"encoding":{"x2":{"field":"x2"},"y2":{"field":"y2"},"fill":{"field":"c","type":"nominal","scale":null}}},
    {"data":{"name":"scalelabel"},"transform":[{"filter":"datum.p=='A'"}],"mark":{"type":"text","fontSize":26.5,"font":"Liberation Sans","baseline":"alphabetic","color":"black"},"encoding":{"text":{"field":"label"}}},
    {"data":{"name":"letters"},"transform":[{"filter":"datum.p=='A'"}],"mark":{"type":"text","fontSize":65,"fontWeight":"bold","font":"Liberation Sans","baseline":"alphabetic","color":"black"},"encoding":{"text":{"field":"label"}}},
    {"data":{"name":"scalelabel"},"transform":[{"filter":"datum.p=='A'"}],"mark":{"type":"text","opacity":0},"encoding":{"text":{"field":"label"},"x":{"field":"x","type":"quantitative","axis":{"orient":"top","values":[140000,160000,180000,200000],"labels":false,"title":null},"scale":{"domain":[130000,199667],"nice":false,"zero":false}},"y":{"field":"y","type":"quantitative","axis":{"orient":"right","values":[700000,720000,740000,760000],"labels":false,"title":null},"scale":{"domain":[680280,774540],"nice":false,"zero":false}}}}
   ]},
  {"width":421,"height":569,"resolve":{"axis":{"x":"independent","y":"independent"}},
   "encoding":{"x":{"field":"x","type":"quantitative","axis":null,"scale":{"domain":[130000,199667],"nice":false,"zero":false}},"y":{"field":"y","type":"quantitative","axis":null,"scale":{"domain":[680280,774540],"nice":false,"zero":false}}},
   "layer":[
    {"data":{"name":"cells"},"transform":[{"filter":"datum.p=='B'"}],"mark":"rect","encoding":{"x":{"field":"x","type":"quantitative","axis":{"orient":"bottom","values":[140000,160000,180000,200000],"format":"d","labelExpr":"datum.value==140000||datum.value==180000?datum.label:''","labelPadding":25,"title":null},"scale":{"domain":[130000,199667],"nice":false,"zero":false}},"y":{"field":"y","type":"quantitative","axis":{"orient":"left","values":[700000,720000,740000,760000],"labels":false,"title":null},"scale":{"domain":[680280,774540],"nice":false,"zero":false}},"x2":{"field":"x2"},"y2":{"field":"y2"},"color":{"field":"v","type":"quantitative","legend":null,"scale":{"domain":[0,25,50],"range":["#ffffff","#ffa500","#ff2000"],"interpolate":"rgb"}}}},
    {"data":{"name":"land"},"mark":{"type":"line","interpolate":"linear-closed","fill":"#EFF2C5","stroke":"#C9CD96","strokeWidth":0.7,"clip":true},"encoding":{"detail":{"field":"p"},"order":{"field":"i","type":"quantitative"}}},
    {"data":{"name":"water"},"mark":{"type":"line","interpolate":"linear-closed","fill":"white","stroke":"#C9CD96","strokeWidth":0.7,"clip":true},"encoding":{"detail":{"field":"p"},"order":{"field":"i","type":"quantitative"}}},
    {"data":{"name":"sightings"},"transform":[{"filter":"datum.p=='B'"}],"mark":{"type":"circle","size":50,"color":"#3B66E0","opacity":0.4}},
    {"data":{"name":"boundary"},"mark":{"type":"line","interpolate":"linear-closed","stroke":"black","strokeWidth":4.2,"strokeJoin":"round","clip":true},"encoding":{"order":{"field":"i","type":"quantitative"}}},
    {"data":{"name":"arrow"},"mark":{"type":"line","interpolate":"linear-closed","fill":"black","stroke":"black","strokeWidth":0.5},"encoding":{"order":{"field":"i","type":"quantitative"}}},
    {"data":{"name":"scalebar"},"transform":[{"filter":"datum.p=='B'"}],"mark":{"type":"rect","stroke":"#222222","strokeWidth":1},"encoding":{"x2":{"field":"x2"},"y2":{"field":"y2"},"fill":{"field":"c","type":"nominal","scale":null}}},
    {"data":{"name":"scalelabel"},"transform":[{"filter":"datum.p=='B'"}],"mark":{"type":"text","fontSize":26.5,"font":"Liberation Sans","baseline":"alphabetic","color":"black"},"encoding":{"text":{"field":"label"}}},
    {"data":{"name":"letters"},"transform":[{"filter":"datum.p=='B'"}],"mark":{"type":"text","fontSize":65,"fontWeight":"bold","font":"Liberation Sans","baseline":"alphabetic","color":"black"},"encoding":{"text":{"field":"label"}}},
    {"data":{"name":"scalelabel"},"transform":[{"filter":"datum.p=='B'"}],"mark":{"type":"text","opacity":0},"encoding":{"text":{"field":"label"},"x":{"field":"x","type":"quantitative","axis":{"orient":"top","values":[140000,160000,180000,200000],"labels":false,"title":null},"scale":{"domain":[130000,199667],"nice":false,"zero":false}},"y":{"field":"y","type":"quantitative","axis":{"orient":"right","values":[700000,720000,740000,760000],"labels":false,"title":null},"scale":{"domain":[680280,774540],"nice":false,"zero":false}}}}
   ]}
 ]},
 {"bounds":"flush","spacing":4,"hconcat":[
  {"width":1,"height":1,"view":{"stroke":null},"data":{"values":[{"a":1}]},"mark":{"type":"point","opacity":0},"encoding":{}},
  {"width":414,"height":560,"resolve":{"axis":{"x":"independent","y":"independent"}},
   "encoding":{"x":{"field":"x","type":"quantitative","axis":null,"scale":{"domain":[130000,199667],"nice":false,"zero":false}},"y":{"field":"y","type":"quantitative","axis":null,"scale":{"domain":[680280,774540],"nice":false,"zero":false}}},
   "layer":[
    {"data":{"name":"cells"},"transform":[{"filter":"datum.p=='C'"}],"mark":"rect","encoding":{"x":{"field":"x","type":"quantitative","axis":{"orient":"bottom","values":[140000,160000,180000,200000],"format":"d","labelExpr":"datum.value==140000||datum.value==180000?datum.label:''","labelPadding":25,"title":null},"scale":{"domain":[130000,199667],"nice":false,"zero":false}},"y":{"field":"y","type":"quantitative","axis":{"orient":"left","values":[700000,720000,740000,760000],"format":"d","labelPadding":18,"labelOffset":2,"title":null},"scale":{"domain":[680280,774540],"nice":false,"zero":false}},"x2":{"field":"x2"},"y2":{"field":"y2"},"color":{"field":"v","type":"quantitative","legend":null,"scale":{"domain":[0,25,50],"range":["#ffffff","#ffa500","#ff2000"],"interpolate":"rgb"}}}},
    {"data":{"name":"land"},"mark":{"type":"line","interpolate":"linear-closed","fill":"#EFF2C5","stroke":"#C9CD96","strokeWidth":0.7,"clip":true},"encoding":{"detail":{"field":"p"},"order":{"field":"i","type":"quantitative"}}},
    {"data":{"name":"water"},"mark":{"type":"line","interpolate":"linear-closed","fill":"white","stroke":"#C9CD96","strokeWidth":0.7,"clip":true},"encoding":{"detail":{"field":"p"},"order":{"field":"i","type":"quantitative"}}},
    {"data":{"name":"sightings"},"transform":[{"filter":"datum.p=='C'"}],"mark":{"type":"circle","size":50,"color":"#3B66E0","opacity":0.4}},
    {"data":{"name":"boundary"},"mark":{"type":"line","interpolate":"linear-closed","stroke":"black","strokeWidth":4.2,"strokeJoin":"round","clip":true},"encoding":{"order":{"field":"i","type":"quantitative"}}},
    {"data":{"name":"arrow"},"mark":{"type":"line","interpolate":"linear-closed","fill":"black","stroke":"black","strokeWidth":0.5},"encoding":{"order":{"field":"i","type":"quantitative"}}},
    {"data":{"name":"scalebar"},"transform":[{"filter":"datum.p=='C'"}],"mark":{"type":"rect","stroke":"#222222","strokeWidth":1},"encoding":{"x2":{"field":"x2"},"y2":{"field":"y2"},"fill":{"field":"c","type":"nominal","scale":null}}},
    {"data":{"name":"scalelabel"},"transform":[{"filter":"datum.p=='C'"}],"mark":{"type":"text","fontSize":26.5,"font":"Liberation Sans","baseline":"alphabetic","color":"black"},"encoding":{"text":{"field":"label"}}},
    {"data":{"name":"letters"},"transform":[{"filter":"datum.p=='C'"}],"mark":{"type":"text","fontSize":65,"fontWeight":"bold","font":"Liberation Sans","baseline":"alphabetic","color":"black"},"encoding":{"text":{"field":"label"}}},
    {"data":{"name":"scalelabel"},"transform":[{"filter":"datum.p=='C'"}],"mark":{"type":"text","opacity":0},"encoding":{"text":{"field":"label"},"x":{"field":"x","type":"quantitative","axis":{"orient":"top","values":[140000,160000,180000,200000],"labels":false,"title":null},"scale":{"domain":[130000,199667],"nice":false,"zero":false}},"y":{"field":"y","type":"quantitative","axis":{"orient":"right","values":[700000,720000,740000,760000],"labels":false,"title":null},"scale":{"domain":[680280,774540],"nice":false,"zero":false}}}}
   ]},
  {"width":51,"height":1,"view":{"stroke":null},"data":{"values":[{"a":1}]},"mark":{"type":"point","opacity":0},"encoding":{}},
  {"width":416,"height":560,"resolve":{"axis":{"x":"independent","y":"independent"}},
   "encoding":{"x":{"field":"x","type":"quantitative","axis":null,"scale":{"domain":[130000,199667],"nice":false,"zero":false}},"y":{"field":"y","type":"quantitative","axis":null,"scale":{"domain":[680280,774540],"nice":false,"zero":false}}},
   "layer":[
    {"data":{"name":"cells"},"transform":[{"filter":"datum.p=='D'"}],"mark":"rect","encoding":{"x":{"field":"x","type":"quantitative","axis":{"orient":"bottom","values":[140000,160000,180000,200000],"format":"d","labelExpr":"datum.value==140000||datum.value==180000?datum.label:''","labelPadding":25,"title":"Easting","titleX":-8,"titleY":134,"titleBaseline":"alphabetic"},"scale":{"domain":[130000,199667],"nice":false,"zero":false}},"y":{"field":"y","type":"quantitative","axis":{"orient":"left","values":[700000,720000,740000,760000],"labels":false,"title":null},"scale":{"domain":[680280,774540],"nice":false,"zero":false}},"x2":{"field":"x2"},"y2":{"field":"y2"},"color":{"field":"v","type":"quantitative","legend":null,"scale":{"domain":[0,25,50],"range":["#ffffff","#ffa500","#ff2000"],"interpolate":"rgb"}}}},
    {"data":{"name":"land"},"mark":{"type":"line","interpolate":"linear-closed","fill":"#EFF2C5","stroke":"#C9CD96","strokeWidth":0.7,"clip":true},"encoding":{"detail":{"field":"p"},"order":{"field":"i","type":"quantitative"}}},
    {"data":{"name":"water"},"mark":{"type":"line","interpolate":"linear-closed","fill":"white","stroke":"#C9CD96","strokeWidth":0.7,"clip":true},"encoding":{"detail":{"field":"p"},"order":{"field":"i","type":"quantitative"}}},
    {"data":{"name":"sightings"},"transform":[{"filter":"datum.p=='D'"}],"mark":{"type":"circle","size":50,"color":"#3B66E0","opacity":0.4}},
    {"data":{"name":"boundary"},"mark":{"type":"line","interpolate":"linear-closed","stroke":"black","strokeWidth":4.2,"strokeJoin":"round","clip":true},"encoding":{"order":{"field":"i","type":"quantitative"}}},
    {"data":{"name":"arrow"},"mark":{"type":"line","interpolate":"linear-closed","fill":"black","stroke":"black","strokeWidth":0.5},"encoding":{"order":{"field":"i","type":"quantitative"}}},
    {"data":{"name":"scalebar"},"transform":[{"filter":"datum.p=='D'"}],"mark":{"type":"rect","stroke":"#222222","strokeWidth":1},"encoding":{"x2":{"field":"x2"},"y2":{"field":"y2"},"fill":{"field":"c","type":"nominal","scale":null}}},
    {"data":{"name":"scalelabel"},"transform":[{"filter":"datum.p=='D'"}],"mark":{"type":"text","fontSize":26.5,"font":"Liberation Sans","baseline":"alphabetic","color":"black"},"encoding":{"text":{"field":"label"}}},
    {"data":{"name":"letters"},"transform":[{"filter":"datum.p=='D'"}],"mark":{"type":"text","fontSize":65,"fontWeight":"bold","font":"Liberation Sans","baseline":"alphabetic","color":"black"},"encoding":{"text":{"field":"label"}}},
    {"data":{"name":"scalelabel"},"transform":[{"filter":"datum.p=='D'"}],"mark":{"type":"text","opacity":0},"encoding":{"text":{"field":"label"},"x":{"field":"x","type":"quantitative","axis":{"orient":"top","values":[140000,160000,180000,200000],"labels":false,"title":null},"scale":{"domain":[130000,199667],"nice":false,"zero":false}},"y":{"field":"y","type":"quantitative","axis":{"orient":"right","values":[700000,720000,740000,760000],"labels":false,"title":null},"scale":{"domain":[680280,774540],"nice":false,"zero":false}}}}
   ]}
 ]}
]},
{"spacing":0,"vconcat":[
 {"width":10,"height":394,"view":{"stroke":null},"data":{"values":[{"a":1}]},"mark":{"type":"point","opacity":0},"encoding":{}},
 {"width":10,"height":341,"title":{"text":"Count","font":"Liberation Sans","fontSize":35,"fontWeight":"normal","anchor":"start","dx":-8,"offset":2,"color":"#111111"},"data":{"name":"legendbar"},"mark":"rect",
  "encoding":{"y":{"field":"y","type":"quantitative","scale":{"domain":[0,50],"nice":false,"zero":false},"axis":{"orient":"right","values":[0,10,20,30,40,50],"title":null,"labelFontSize":35,"labelPadding":20,"domain":true}},"y2":{"field":"y2"},"color":{"field":"v","type":"quantitative","legend":null,"scale":{"domain":[0,25,50],"range":["#ffffff","#ffa500","#ff2000"],"interpolate":"rgb"}}}}
]}
]}
